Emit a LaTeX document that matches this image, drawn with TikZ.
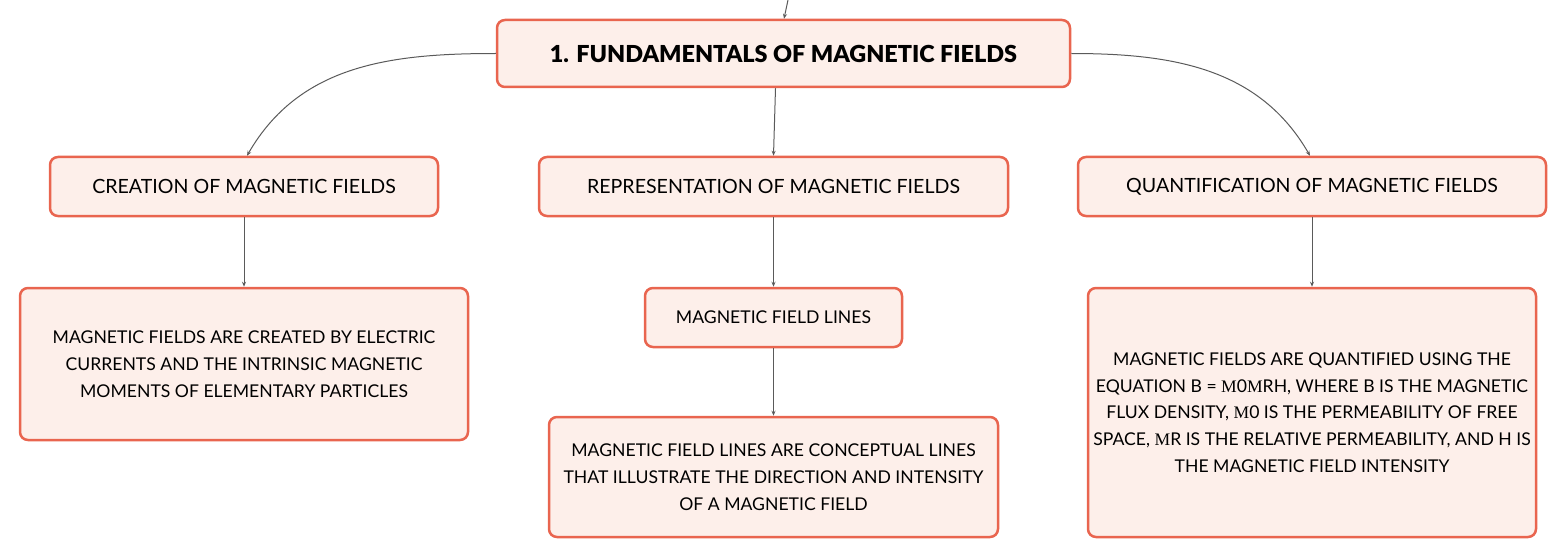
\documentclass[tikz,border=0pt]{standalone}
\usepackage{fontspec}
\setmainfont{Lato}
\newfontfamily\titlefont{Lato Black}
\newfontfamily\serifgreek{Liberation Serif}
\usetikzlibrary{arrows.meta}
\definecolor{boxborder}{HTML}{E9654F}
\definecolor{boxfill}{HTML}{FDEFEA}
\definecolor{linkcol}{HTML}{5A5A5A}
\tikzset{
  box/.style={draw=boxborder, fill=boxfill, line width=2.5pt, rounded corners=8pt,
    align=center, inner sep=0pt, text=black},
  headtext/.style={font=\fontsize{19.6}{22}\selectfont},
  desctext/.style={font=\fontsize{17.6}{26.8}\selectfont},
  link/.style={draw=linkcol, line width=1pt, -{Stealth[length=5pt,width=4pt]}},
}
\begin{document}
\begin{tikzpicture}[x=1pt,y=-1pt]
\useasboundingbox (0,0) rectangle (1567,559);
\node[box, minimum width=573pt, minimum height=67pt, font=\titlefont\fontsize{23.4}{26}\selectfont] (top) at (783.5,53.5) {1. FUNDAMENTALS OF MAGNETIC FIELDS};
\node[box, headtext, minimum width=388pt, minimum height=59pt] (cre) at (244,186.5) {CREATION OF MAGNETIC FIELDS};
\node[box, headtext, minimum width=469pt, minimum height=59pt] (rep) at (773.5,186.5) {REPRESENTATION OF MAGNETIC FIELDS};
\node[box, headtext, minimum width=468pt, minimum height=59pt] (qua) at (1312,186.5) {QUANTIFICATION OF MAGNETIC FIELDS};
\node[box, desctext, minimum width=448pt, minimum height=152pt] (credesc) at (244,364) {MAGNETIC FIELDS ARE CREATED BY ELECTRIC\\CURRENTS AND THE INTRINSIC MAGNETIC\\MOMENTS OF ELEMENTARY PARTICLES};
\node[box, font=\fontsize{17.6}{20}\selectfont, minimum width=257pt, minimum height=59pt] (lines) at (773.5,317.5) {MAGNETIC FIELD LINES};
\node[box, desctext, minimum width=449pt, minimum height=120pt] (linesdesc) at (773.5,477) {MAGNETIC FIELD LINES ARE CONCEPTUAL LINES\\THAT ILLUSTRATE THE DIRECTION AND INTENSITY\\OF A MAGNETIC FIELD};
\node[box, desctext, minimum width=448pt, minimum height=249pt] (quadesc) at (1312,412.5) {MAGNETIC FIELDS ARE QUANTIFIED USING THE\\EQUATION B = {\serifgreek Μ}0{\serifgreek Μ}RH, WHERE B IS THE MAGNETIC\\FLUX DENSITY, {\serifgreek Μ}0 IS THE PERMEABILITY OF FREE\\SPACE, {\serifgreek Μ}R IS THE RELATIVE PERMEABILITY, AND H IS\\THE MAGNETIC FIELD INTENSITY};
\coordinate (in) at (788,0);
\draw[link] (in) -- ([xshift=0.5pt]top.north);
\draw[link] (top.west) to[out=180,in=60] ([xshift=3pt]cre.north);
\draw[link] (top.east) to[out=0,in=120] ([xshift=-2pt]qua.north);
\draw[link] ([xshift=-8pt]top.south) -- (rep.north);
\draw[link] (cre.south) -- (credesc.north);
\draw[link] (rep.south) -- (lines.north);
\draw[link] (lines.south) -- (linesdesc.north);
\draw[link] (qua.south) -- (quadesc.north);
\end{tikzpicture}
\end{document}
